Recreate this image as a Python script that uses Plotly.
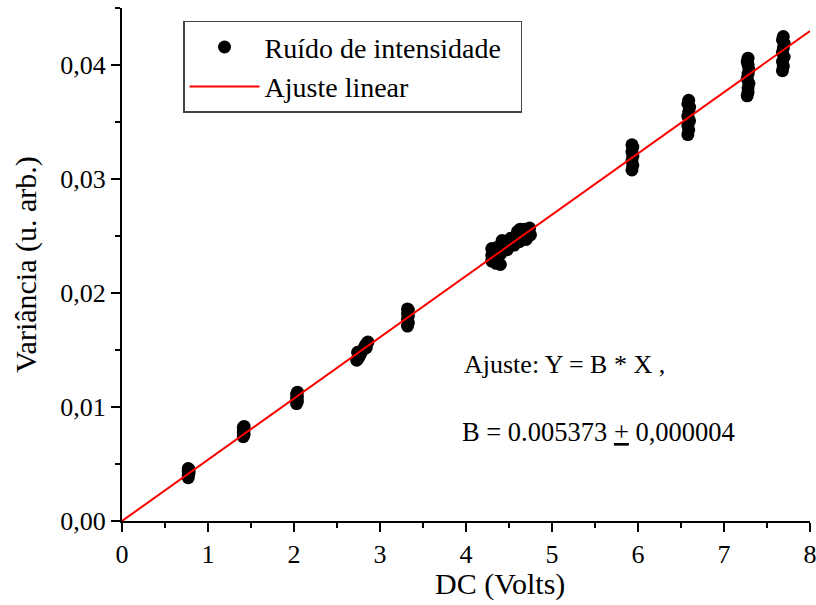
import plotly.graph_objects as go

# --- data ---
dc_volts = [
    0.77, 0.77, 0.78, 0.77, 0.78, 0.77,
    1.41, 1.42, 1.41, 1.42, 1.41, 1.42,
    2.03, 2.04, 2.03, 2.04, 2.03, 2.04,
    2.73, 2.75, 2.77, 2.79, 2.81, 2.83, 2.85, 2.86, 2.74, 2.84,
    3.32, 3.33, 3.32, 3.33, 3.32, 3.33, 3.32,
    4.30, 4.30, 4.30, 4.32, 4.35, 4.35, 4.36, 4.40, 4.40, 4.41, 4.42,
    4.48, 4.50, 4.52, 4.56, 4.58, 4.60, 4.62, 4.63, 4.66, 4.68, 4.70, 4.72, 4.74, 4.75,
    5.93, 5.94, 5.93, 5.94, 5.93, 5.94, 5.93,
    6.58, 6.59, 6.58, 6.60, 6.58, 6.59, 6.60, 6.58, 6.59,
    7.27, 7.28, 7.28, 7.29, 7.27, 7.28, 7.29, 7.28, 7.27, 7.28,
    7.68, 7.69, 7.68, 7.70, 7.68, 7.69, 7.70, 7.68, 7.69,
]
variance = [
    0.0038, 0.0040, 0.0042, 0.0043, 0.0045, 0.0046,
    0.0074, 0.0076, 0.0078, 0.0080, 0.0082, 0.0083,
    0.0103, 0.0105, 0.0107, 0.0109, 0.0111, 0.0113,
    0.0141, 0.0143, 0.0146, 0.0149, 0.0151, 0.0154, 0.0156, 0.0157, 0.0148, 0.0152,
    0.0171, 0.0174, 0.0177, 0.0180, 0.0182, 0.0185, 0.0186,
    0.0228, 0.0233, 0.0239, 0.0236, 0.0226, 0.0231, 0.0240, 0.0225, 0.0234, 0.0242, 0.0246,
    0.0238, 0.0244, 0.0248, 0.0242, 0.0249, 0.0254, 0.0245, 0.0256, 0.0250, 0.0256, 0.0247, 0.0253, 0.0257, 0.0251,
    0.0308, 0.0312, 0.0316, 0.0320, 0.0324, 0.0328, 0.0330,
    0.0339, 0.0343, 0.0347, 0.0351, 0.0355, 0.0359, 0.0363, 0.0366, 0.0369,
    0.0373, 0.0376, 0.0380, 0.0384, 0.0388, 0.0392, 0.0396, 0.0400, 0.0403, 0.0406,
    0.0395, 0.0399, 0.0403, 0.0407, 0.0411, 0.0415, 0.0419, 0.0422, 0.0425,
]
fit_slope = 0.005373
fit_x = [0.0, 8.0]
fit_y = [fit_slope * v for v in fit_x]

x_tickvals = [0, 1, 2, 3, 4, 5, 6, 7, 8]
y_tickvals = [0.0, 0.01, 0.02, 0.03, 0.04]
y_ticktext = ["0,00", "0,01", "0,02", "0,03", "0,04"]

FONT = "Liberation Serif"
NBSP = "\u00a0"

fig = go.Figure()
fig.add_trace(go.Scatter(
    x=dc_volts, y=variance, mode="markers", name="Ruído de intensidade" + NBSP * 2,
    marker=dict(symbol="circle", size=13, color="black", line=dict(width=0)),
))
fig.add_trace(go.Scatter(
    x=fit_x, y=fit_y, mode="lines", name="Ajuste linear",
    line=dict(color="#ff0000", width=2),
))

fig.update_layout(
    width=816, height=605,
    margin=dict(l=122, r=6, t=8, b=84),
    paper_bgcolor="white", plot_bgcolor="white",
    font=dict(family=FONT, size=26, color="black"),
    showlegend=True,
    legend=dict(
        x=0.0887, y=0.975, xanchor="left", yanchor="top",
        bordercolor="#444444", borderwidth=1.5, bgcolor="white",
        font=dict(family=FONT, size=28, color="black"),
        itemwidth=70, tracegroupgap=0,
    ),
    annotations=[
        dict(x=3.95, y=0.0137, xref="x", yref="y", xanchor="left", yanchor="middle",
             text="Ajuste: Y = B * X ,", showarrow=False,
             font=dict(family=FONT, size=26, color="black")),
        dict(x=3.93, y=0.0078, xref="x", yref="y", xanchor="left", yanchor="middle",
             text="B = 0.005373 <u>+</u> 0,000004", showarrow=False,
             font=dict(family=FONT, size=26.5, color="black")),
        dict(x=0.549, y=0, xref="paper", yref="paper", xanchor="center", yanchor="top",
             yshift=-44, text="DC (Volts)", showarrow=False,
             font=dict(family=FONT, size=30, color="black")),
    ],
)
fig.update_xaxes(
    range=[0, 8.0005], tickvals=x_tickvals, showgrid=False, zeroline=False,
    showline=True, linecolor="black", linewidth=2, mirror=False, automargin=False,
    ticks="outside", ticklen=9, tickwidth=2, tickcolor="black",
    ticklabeloverflow="allow",
    minor=dict(dtick=0.5, ticks="outside", ticklen=5, tickwidth=2, tickcolor="black", showgrid=False),
    tickfont=dict(family=FONT, size=26),
)
fig.update_yaxes(
    range=[0, 0.045], tickvals=y_tickvals, ticktext=y_ticktext, showgrid=False, zeroline=False,
    showline=True, linecolor="black", linewidth=2, mirror=False, automargin=False,
    ticks="outside", ticklen=9, tickwidth=2, tickcolor="black",
    ticklabeloverflow="allow",
    minor=dict(dtick=0.005, ticks="outside", ticklen=5, tickwidth=2, tickcolor="black", showgrid=False),
    title=dict(text="Variância (u. arb.)", font=dict(family=FONT, size=30)),
    tickfont=dict(family=FONT, size=26),
)

fig.write_html("out.html")
